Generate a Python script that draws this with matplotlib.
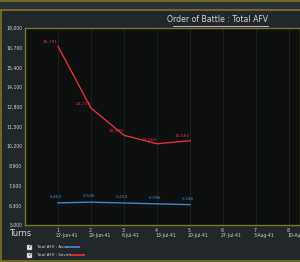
import matplotlib.pyplot as plt
import matplotlib.transforms as mtrans
from matplotlib.patches import Rectangle
from matplotlib.lines import Line2D

turns = [1, 2, 3, 4, 5]
tick_turns = [1, 2, 3, 4, 5, 6, 7, 8]
tick_dates = ['22-Jun-41', '29-Jun-41', '6-Jul-41', '13-Jul-41', '20-Jul-41',
              '27-Jul-41', '3-Aug-41', '10-Aug-41']
axis_afv = [6462, 6506, 6454, 6396, 6346]
soviet_afv = [16791, 12717, 10920, 10360, 10560]
y_ticks = [5000, 6300, 7600, 8900, 10200, 11500, 12800, 14100, 15400, 16700, 18000]

BG = '#22272a'
OLIVE = '#7d7628'
TXT = '#d6d6d6'
BLUE = '#3f86c8'
RED = '#e0313a'

fig = plt.figure(figsize=(3, 2.62), dpi=100, facecolor=BG)
W, H = 300, 262

# outer frame
fig.add_artist(Rectangle((0, 1 - 10 / H), 1, 10 / H, transform=fig.transFigure,
                         color='#2c3234', zorder=-1))
fig.add_artist(Line2D([0, 1], [1 - 1 / H, 1 - 1 / H], color=OLIVE, lw=1.2))
fig.add_artist(Line2D([0, 1], [1 - 10 / H, 1 - 10 / H], color=OLIVE, lw=1.2))
fig.add_artist(Line2D([1 / W, 1 / W], [1 / H, 1 - 10 / H], color=OLIVE, lw=1.2))
fig.add_artist(Line2D([0, 1], [1 / H, 1 / H], color=OLIVE, lw=1.2))

ax = fig.add_axes([25 / W, 1 - 225 / H, 275 / W, 197 / H])
ax.set_facecolor('#0e1010')
for side in ['left', 'bottom', 'top', 'right']:
    ax.spines[side].set_color(OLIVE)
    ax.spines[side].set_linewidth(1.0)

ax.set_xlim(0, 275 / 33)
ax.set_ylim(5000, 18000)
for t in tick_turns:
    ax.axvline(t, color='#1d2020', lw=0.8, zorder=0)

ax.plot(turns, axis_afv, color=BLUE, lw=1.0)
ax.plot(turns, soviet_afv, color=RED, lw=1.0)
for x, v in zip(turns, axis_afv):
    ax.text(x - 0.05, v + 250, f'{v:,}', color=BLUE, fontsize=3.2,
            ha='center', va='bottom')
for x, v in zip(turns, soviet_afv):
    ax.text(x - 0.25, v + 150, f'{v:,}', color=RED, fontsize=3.2,
            ha='center', va='bottom')

ax.set_yticks(y_ticks)
ax.set_yticklabels([f'{v:,}' for v in y_ticks])
ax.set_xticks(tick_turns)
ax.set_xticklabels([f'{t}\n{d}' for t, d in zip(tick_turns, tick_dates)],
                   linespacing=1.1)
ax.tick_params(axis='y', colors=TXT, labelsize=3.3, length=0, pad=2)
ax.tick_params(axis='x', colors=TXT, labelsize=3.3, length=0, pad=2)
offset = mtrans.ScaledTranslation(-2 / 100, 0, fig.dpi_scale_trans)
for lab in ax.get_xticklabels():
    lab.set_horizontalalignment('left')
    lab.set_transform(lab.get_transform() + offset)

fig.text(268 / W, 1 - 19.5 / H, 'Order of Battle : Total AFV', color=TXT,
         fontsize=5.6, ha='right', va='center')
fig.add_artist(Line2D([173 / W, 268 / W], [1 - 25.5 / H, 1 - 25.5 / H], color=TXT, lw=0.6))

fig.text(9 / W, 1 - 233 / H, 'Turns', color=TXT, fontsize=6, ha='left', va='center')

# legend rows
legend_rows = [('Total AFV : Axis', BLUE, 67, 79), ('Total AFV : Soviet', RED, 71, 84)]
for i, (name, col, x0, x1) in enumerate(legend_rows):
    yy = 1 - (247 + i * 8) / H
    fig.add_artist(Rectangle((27 / W, yy - 2.5 / H), 5 / W, 5 / H, transform=fig.transFigure,
                             facecolor='#e8e8e8', edgecolor='#888888', lw=0.3))
    fig.text(29.5 / W, yy, '\u2713', color='#222222', fontsize=4, ha='center', va='center')
    fig.text(36 / W, yy, name, color=TXT, fontsize=2.9, ha='left', va='center')
    fig.add_artist(Line2D([x0 / W, x1 / W], [yy, yy], color=col, lw=1.3))

fig.savefig('out.png', dpi=100, facecolor=BG)
